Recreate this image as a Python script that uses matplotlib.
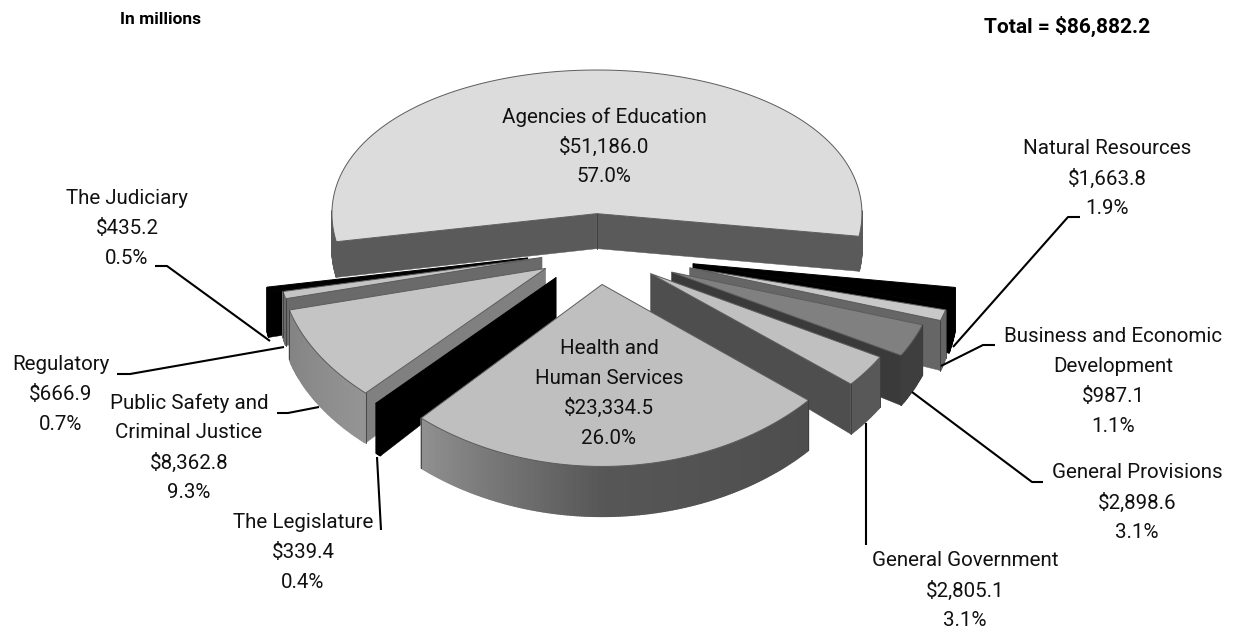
import numpy as np
import matplotlib
matplotlib.use('Agg')
from matplotlib import pyplot as plt

# data, clockwise from the big slice
names = ['Agencies of Education', 'Natural Resources', 'Business and Economic\nDevelopment',
         'General Provisions', 'General Government', 'Health and\nHuman Services',
         'The Legislature', 'Public Safety and\nCriminal Justice', 'Regulatory', 'The Judiciary']
dollars = [51186.0, 1663.8, 987.1, 2898.6, 2805.1, 23334.5, 339.4, 8362.8, 666.9, 435.2]
percents = [57.0, 1.9, 1.1, 3.1, 3.1, 26.0, 0.4, 9.3, 0.7, 0.5]
total_label = 'Total = $86,882.2'
unit_label = 'In millions'

# look of each slice
explode = [0.23, 0.35, 0.333, 0.267, 0.206, 0.23, 0.235, 0.23, 0.217, 0.27]
radius = [1, 1, 1, 1, 1, 1.03, 1, 1, 1, 1]
nudge_x = [0, 4, 7, 9, 8, 0, 0, 0, 0, 0]
nudge_y = [0, 3, 3, 5, 5, -2, 0, 0, 0, 0]
top_col = ['#dcdcdc', '#000000', '#c8c8c8', '#808080', '#c0c0c0', '#bfbfbf', '#000000', '#c4c4c4', '#c4c4c4', '#000000']
arc_col = ['#5a5a5a', '#000000', '#666666', '#3e3e3e', '#585858', None, '#000000', None, '#6a6a6a', '#000000']
side_col = ['#5a5a5a', '#000000', '#666666', '#3a3a3a', '#4e4e4e', '#4e4e4e', '#000000', '#808080', '#6a6a6a', '#000000']
# label centre x and the y of the first line, pixels
label_x = [604, 1107, 1113, 1137, 965, 609, 303, 189, 61, 127]
label_y = [117, 149, 336, 473, 561, 348, 522, 403, 365, 198]

# leader lines, pixels
leaders = [[(1080, 217), (1068, 217), (953, 347)],
           [(995, 345), (983, 345), (941, 366)],
           [(1043, 482), (1032, 482), (912, 392)],
           [(866, 423), (866, 545)],
           [(155, 266), (167, 266), (270, 341)],
           [(117, 374), (130, 374), (284, 347)],
           [(277, 413), (288, 413), (319, 407)],
           [(381, 530), (377, 457)]]

# projection of the pie plane on to the picture
cx, cy, sx_scale, sy_scale, persp, rotate = 598, 249.5, 265, 158.5, 0.07, 1.0


def project(x, y):
    return cx + sx_scale * np.asarray(x), cy - sy_scale * np.asarray(y) / (1 + persp * np.asarray(y))


def wall_height(y):
    return np.interp(y, [-0.4, 0.07], [50, 35])


def wall_shade(ang):
    return np.interp(ang, [-172, -134, -90, -40], [0.50, 0.58, 0.34, 0.30])


plt.rcParams['font.family'] = ['Roboto', 'DejaVu Sans']
fig = plt.figure(figsize=(12.34, 6.33), dpi=100)
ax = fig.add_axes([0, 0, 1, 1])
ax.set_xlim(0, 1234)
ax.set_ylim(633, 0)
ax.axis('off')

shares = np.array(dollars) / sum(dollars) * 360
start = 90 + shares[0] / 2 + rotate
ends = start - np.cumsum(shares)
starts = ends + shares
mids = (starts + ends) / 2
order = np.argsort(-np.sin(np.radians(mids)))

for n, i in enumerate(order):
    a1, a2 = starts[i], ends[i]
    ox = explode[i] * np.cos(np.radians(mids[i]))
    oy = explode[i] * np.sin(np.radians(mids[i]))
    ang = np.linspace(a1, a2, max(int(shares[i] * 2), 8))
    px = ox + radius[i] * np.cos(np.radians(ang))
    py = oy + radius[i] * np.sin(np.radians(ang))
    sx, sy = project(px, py)
    sx = sx + nudge_x[i]
    sy = sy + nudge_y[i]
    wall = wall_height(py)
    z = n * 10
    edge = '#000000' if top_col[i] == '#000000' else '#5c5c5c'

    # radial walls that face the viewer
    ax0, ay0 = project(ox, oy)
    ax0 = ax0 + nudge_x[i]
    ay0 = ay0 + nudge_y[i]
    w0 = wall_height(oy)
    for a, j in ((a1, 0), (a2, -1)):
        c = np.cos(np.radians(a))
        if (j == 0 and c < 0) or (j == -1 and c > 0):
            ax.fill([ax0, sx[j], sx[j], ax0], [ay0, sy[j], sy[j] + wall[j], ay0 + w0],
                    color=side_col[i], lw=0.3, zorder=z)

    # outer wall, cut in small pieces so it can carry the shading
    for k in range(len(ang) - 1):
        if np.sin(np.radians(ang[k] + ang[k + 1]) / 2) >= 0.02:
            continue
        col = arc_col[i]
        if col is None:
            col = str(wall_shade((ang[k] + ang[k + 1]) / 2))
        ax.fill([sx[k], sx[k + 1], sx[k + 1], sx[k]],
                [sy[k], sy[k + 1], sy[k + 1] + wall[k + 1], sy[k] + wall[k]],
                color=col, lw=1.0, zorder=z + 1)

    # top face
    ax.fill(np.r_[ax0, sx], np.r_[ay0, sy], facecolor=top_col[i], edgecolor=edge, lw=0.7,
            joinstyle='miter', zorder=z + 2)
    # dark line down the visible corners
    for j in (0, -1):
        if py[j] < 0.02 and top_col[i] != '#000000':
            ax.plot([sx[j], sx[j]], [sy[j], sy[j] + wall[j]], color='#3c3c3c', lw=0.6, zorder=z + 3)
    if i == 0:
        ax.plot([ax0, ax0], [ay0, ay0 + w0], color='#3c3c3c', lw=0.6, zorder=z + 3)

for line in leaders:
    xs, ys = zip(*line)
    ax.plot(xs, ys, color='black', lw=1.5, solid_capstyle='butt', zorder=200)

# labels go line by line, the spacing of the reference is about 30 px
for i in range(len(names)):
    lines = names[i].split('\n') + [f'${dollars[i]:,.1f}', f'{percents[i]:.1f}%']
    for k, txt in enumerate(lines):
        ax.text(label_x[i], label_y[i] + k * 30, txt, ha='center', va='center', fontsize=14.8,
                color='#111111', zorder=300)

ax.text(161, 20, unit_label, ha='center', va='center', fontsize=12.5, fontweight='bold', zorder=300)
ax.text(1067, 26, total_label, ha='center', va='center', fontsize=15, fontweight='bold', zorder=300)

fig.savefig('out.png', dpi=100)
